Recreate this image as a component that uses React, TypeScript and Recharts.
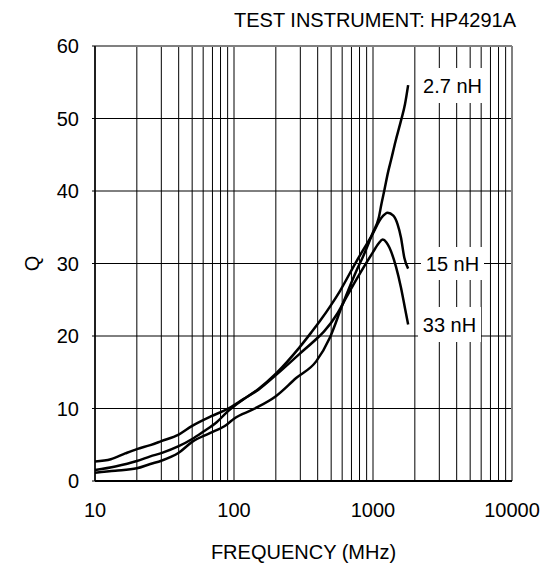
import React from 'react';
import {
  LineChart, Line, XAxis, YAxis, CartesianGrid, ReferenceLine, ReferenceArea
} from 'recharts';

// Q vs frequency
const freq27 = [10, 14, 20, 25, 30, 40, 50, 67, 89, 100, 138, 200, 280, 390, 490, 600, 760, 850, 1000, 1100, 1150, 1210, 1280, 1350, 1450, 1590, 1700, 1790];
const q27 = [1.15, 1.4, 1.75, 2.35, 2.8, 3.9, 5.4, 6.6, 7.8, 8.6, 9.9, 11.7, 14.2, 16.5, 19.8, 24.2, 29.0, 31.0, 34.3, 36.3, 38.2, 40.2, 42.5, 44.3, 46.8, 49.7, 52.0, 54.6];

const freq15 = [10, 14, 20, 25, 30, 40, 50, 60, 75, 89, 100, 120, 150, 200, 295, 360, 420, 500, 574, 755, 995, 1150, 1274, 1400, 1503, 1589, 1680, 1790];
const q15 = [1.5, 2.0, 2.75, 3.4, 3.85, 4.8, 5.8, 6.8, 8.1, 9.5, 10.3, 11.4, 12.7, 14.8, 18.4, 20.5, 22.2, 24.3, 26.1, 30.2, 34.1, 36.3, 37.0, 36.6, 35.4, 33.6, 30.8, 29.3];

const freq33 = [10, 13, 16.5, 20, 25, 30, 40, 50, 68, 89, 117, 150, 200, 295, 412, 448, 550, 641, 798, 995, 1100, 1175, 1250, 1312, 1466, 1589, 1700, 1790];
const q33 = [2.7, 3.0, 3.8, 4.4, 4.95, 5.5, 6.4, 7.6, 8.9, 9.9, 11.3, 12.6, 14.6, 17.5, 20.0, 20.7, 23.0, 25.3, 28.5, 31.5, 32.8, 33.3, 32.9, 32.2, 29.5, 26.7, 23.8, 21.6];

const xTicks = [
  10, 20, 30, 40, 50, 60, 70, 80, 90,
  100, 200, 300, 400, 500, 600, 700, 800, 900,
  1000, 2000, 3000, 4000, 5000, 6000, 7000, 8000, 9000,
  10000,
];
const xLabels = [10, 100, 1000, 10000];
const yTicks = [0, 10, 20, 30, 40, 50, 60];

const title = 'TEST INSTRUMENT: HP4291A';
const seriesNames = ['2.7 nH', '15 nH', '33 nH'];

const toRows = (fs: number[], qs: number[]) => fs.map((f, i) => ({ f, q: qs[i] }));

const series = [
  { name: seriesNames[0], data: toRows(freq27, q27) },
  { name: seriesNames[1], data: toRows(freq15, q15) },
  { name: seriesNames[2], data: toRows(freq33, q33) },
];

// white boxes behind the curve labels
const labelBoxes = [
  { text: seriesNames[0], x1: 2108, x2: 6607, y1: 52.14, y2: 56.97 },
  { text: seriesNames[1], x1: 2214, x2: 6289, y1: 27.72, y2: 32.28 },
  { text: seriesNames[2], x1: 2108, x2: 5984, y1: 19.17, y2: 24.0 },
];

const FONT = '"Liberation Sans", Arial, sans-serif';

const QLabel = (props: any) => {
  const { y, height } = props.viewBox;
  const cy = y + height / 2;
  return (
    <text x={32} y={cy} dy="0.355em" textAnchor="middle" fontSize={20} fill="#000"
      transform={`rotate(-90, 32, ${cy})`}>Q</text>
  );
};

export default function App() {
  return (
    <div style={{ position: 'absolute', left: 0, top: 0, width: 552, height: 565, background: '#fff', fontFamily: FONT }}>
      <div style={{ position: 'absolute', top: 10, right: 36, fontSize: 20, lineHeight: '20px', color: '#000', whiteSpace: 'nowrap' }}>
        {title}
      </div>
      <LineChart width={552} height={565} margin={{ top: 46, right: 40, left: 0, bottom: 0 }}>
        <CartesianGrid stroke="#000" strokeWidth={1} />
        <XAxis
          dataKey="f"
          type="number"
          scale="log"
          domain={[10, 10000]}
          ticks={xTicks}
          interval={0}
          allowDataOverflow
          height={84}
          tickLine={false}
          tickSize={0}
          tickMargin={22}
          tick={{ fill: '#000', fontSize: 20 }}
          tickFormatter={(v: number) => (xLabels.includes(v) ? String(v) : '')}
          axisLine={{ stroke: '#000', strokeWidth: 2 }}
          label={{ value: 'FREQUENCY (MHz)', position: 'insideBottom', offset: 6, fill: '#000', fontSize: 20 }}
        />
        <YAxis
          type="number"
          domain={[0, 60]}
          ticks={yTicks}
          interval={0}
          width={95}
          tickSize={3}
          tickMargin={13}
          tickLine={{ stroke: '#000' }}
          tick={{ fill: '#000', fontSize: 20 }}
          axisLine={{ stroke: '#000', strokeWidth: 1.5 }}
          label={QLabel}
        />
        <ReferenceLine y={60} stroke="#808080" strokeWidth={2} />
        <ReferenceLine x={10000} stroke="#808080" strokeWidth={2} />
        {labelBoxes.map(b => (
          <ReferenceArea
            key={b.text}
            x1={b.x1} x2={b.x2} y1={b.y1} y2={b.y2}
            fill="#fff" fillOpacity={1} stroke="none"
            label={{ value: b.text, position: 'center', fill: '#000', fontSize: 20 }}
          />
        ))}
        {series.map(s => (
          <Line
            key={s.name}
            data={s.data}
            dataKey="q"
            name={s.name}
            type="monotone"
            stroke="#000"
            strokeWidth={2.5}
            dot={false}
            activeDot={false}
            isAnimationActive={false}
          />
        ))}
      </LineChart>
    </div>
  );
}
